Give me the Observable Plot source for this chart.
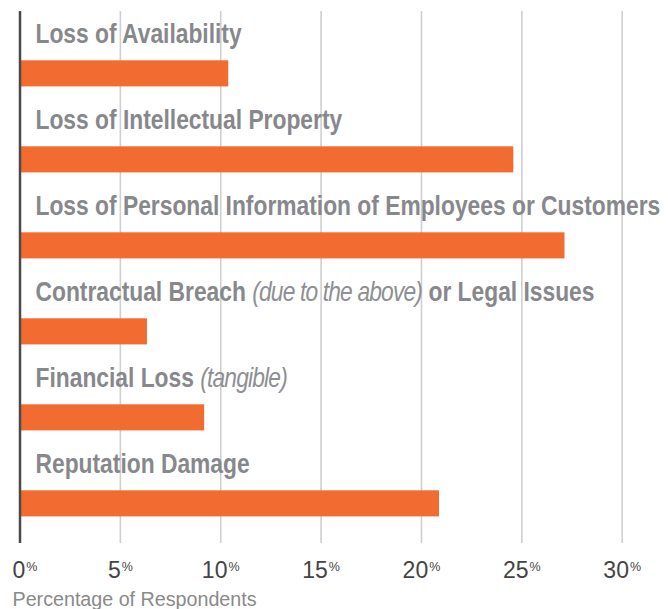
<!DOCTYPE html>
<html>
<head>
<meta charset="utf-8">
<script src="https://cdn.jsdelivr.net/npm/d3@7"></script>
<script src="https://cdn.jsdelivr.net/npm/@observablehq/plot@0.6"></script>
<style>
  html, body { margin: 0; padding: 0; background: #fff; }
  #chart svg { display: block; }
</style>
</head>
<body>
<div id="chart"></div>
<script>
const categories = [
  "Loss of Availability",
  "Loss of Intellectual Property",
  "Loss of Personal Information of Employees or Customers",
  "Contractual Breach (due to the above) or Legal Issues",
  "Financial Loss (tangible)",
  "Reputation Damage"
];
const values = [10.4, 24.6, 27.15, 6.35, 9.2, 20.9];
const italicParts = ["(due to the above)", "(tangible)"];
const tickValues = [0, 5, 10, 15, 20, 25, 30];
const axisTitle = "Percentage of Respondents";

const data = categories.map((c, i) => ({category: c, value: values[i]}));

const FONT = '"Liberation Sans", Arial, sans-serif';
const ORANGE = "#f26c31";
const LABEL_GRAY = "#87888c";
const LABEL_SCALE = 0.845;

const plot = Plot.plot({
  width: 668,
  height: 609,
  marginLeft: 19.5,
  marginRight: 46.3,
  marginTop: 11,
  marginBottom: 66,
  style: {fontFamily: FONT, background: "#fff"},
  x: {domain: [0, 30], axis: null},
  y: {domain: categories, range: [0, 521.6], padding: 0, axis: null},
  marks: [
    Plot.ruleX(tickValues.filter(d => d > 0), {stroke: "#cfcfcf", strokeWidth: 1.6}),
    Plot.text(data, {
      x: 0, y: "category", text: "category",
      textAnchor: "start", lineAnchor: "bottom", dx: 15.5, dy: -3.5,
      fontSize: 27, fontWeight: "bold", fill: LABEL_GRAY
    }),
    Plot.barX(data, {
      x: "value", y: "category", fill: ORANGE,
      insetTop: 57.3, insetBottom: 2.6
    }),
    Plot.ruleX([0], {stroke: "#4a4a4a", strokeWidth: 2.5}),
    Plot.text(tickValues.filter(d => d === 0), {
      x: d => d, text: d => String(d), frameAnchor: "bottom",
      textAnchor: "start", lineAnchor: "bottom", dx: -7.5, dy: 34.5,
      fontSize: 23, fill: "#444444"
    }),
    Plot.text(tickValues.filter(d => d > 0), {
      x: d => d, text: d => String(d), frameAnchor: "bottom",
      textAnchor: "middle", lineAnchor: "bottom", dy: 34.5,
      fontSize: 23, fill: "#444444"
    }),
    Plot.text([axisTitle], {
      frameAnchor: "bottom-left", text: d => d,
      textAnchor: "start", lineAnchor: "bottom", dx: -7.5, dy: 62,
      fontSize: 19.7, fill: "#8a8a8a"
    })
  ]
});

document.getElementById("chart").appendChild(plot);

// Mixed text styling: condensed bold labels with italic notes; superscript % on ticks
const tickStrings = tickValues.map(String);
d3.select(plot).selectAll("text").each(function() {
  const el = d3.select(this);
  const t = this.textContent;
  if (categories.includes(t)) {
    const part = italicParts.find(p => t.includes(p));
    if (part) {
      const [before, after] = t.split(part);
      el.text(null);
      el.append("tspan").text(before);
      el.append("tspan").attr("font-style", "italic").attr("font-weight", "normal")
        .attr("letter-spacing", -1).attr("fill", "#8e8f93").text(part);
      if (after) el.append("tspan").text(after);
    }
    const tr = this.getAttribute("transform") || "";
    const x = +(this.getAttribute("x") || 0), y = +(this.getAttribute("y") || 0);
    this.removeAttribute("x");
    this.removeAttribute("y");
    this.setAttribute("transform", `${tr} translate(${x},${y}) scale(${LABEL_SCALE},1)`);
  } else if (tickStrings.includes(t)) {
    el.append("tspan").attr("font-size", 12.5).attr("dy", -7.5).attr("dx", 1).text("%");
  }
});
</script>
</body>
</html>
